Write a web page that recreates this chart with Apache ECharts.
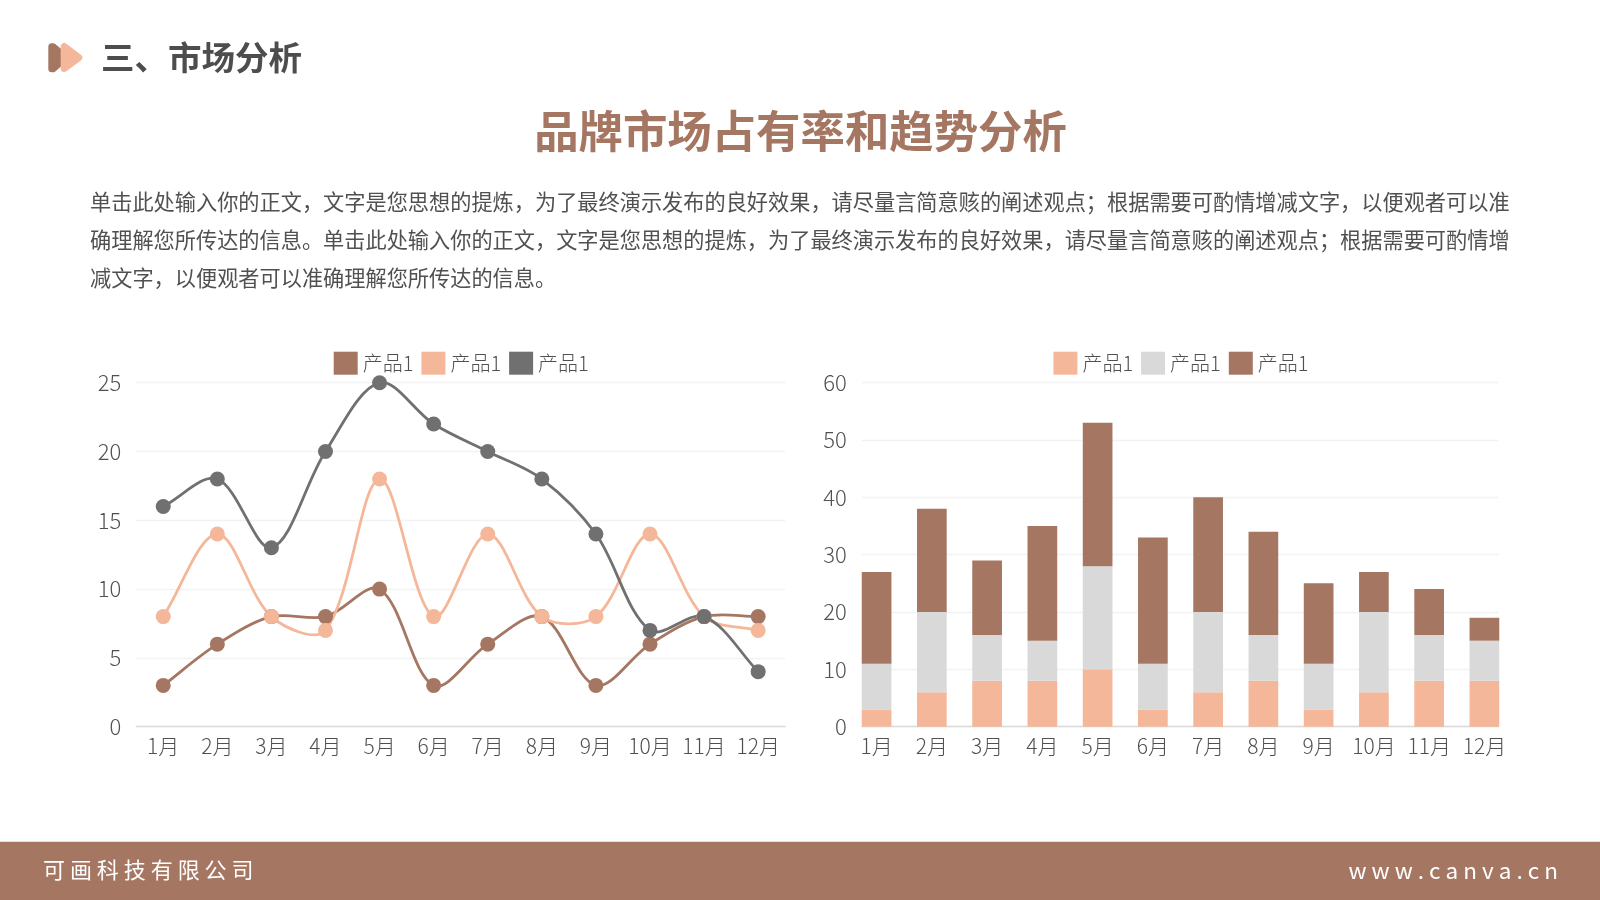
<!DOCTYPE html>
<html><head><meta charset="utf-8">
<style>html,body{margin:0;padding:0;background:#fff}#c{width:1600px;height:900px}</style>
<script src="https://cdn.jsdelivr.net/npm/echarts@6/dist/echarts.min.js"></script>
</head><body><div id="c"></div>
<script>
const months = ['1月','2月','3月','4月','5月','6月','7月','8月','9月','10月','11月','12月'];
const seriesA = [3,6,8,8,10,3,6,8,3,6,8,8];
const seriesB = [8,14,8,7,18,8,14,8,8,14,8,7];
const seriesC = [16,18,13,20,25,22,20,18,14,7,8,4];
const legendText = '产品1';
const heading = '三、市场分析';
const title = '品牌市场占有率和趋势分析';
const bodyLines = [
  '单击此处输入你的正文，文字是您思想的提炼，为了最终演示发布的良好效果，请尽量言简意赅的阐述观点；根据需要可酌情增减文字，以便观者可以准',
  '确理解您所传达的信息。单击此处输入你的正文，文字是您思想的提炼，为了最终演示发布的良好效果，请尽量言简意赅的阐述观点；根据需要可酌情增',
  '减文字，以便观者可以准确理解您所传达的信息。'
];
const company = '可 画 科 技 有 限 公 司';
const site = 'w w w . c a n v a . c n';

const BROWN='#A57762', PEACH='#F5B799', GRAY='#707070', LIGHT='#D9D9D9', TEXT='#505050';
const FONT='"Noto Sans CJK SC","Noto Sans",sans-serif';
// identical visible names; zero-width suffix keeps legend entries separate
const nm = i => legendText + '\u200b'.repeat(i);

// office-style smoothing: one bezier segment per pair of points, placed through the axes
const SMOOTH = 1/3;
const curveSeries = (data, color) => ({
  type:'custom', xAxisIndex:0, yAxisIndex:0, silent:true,
  data:data.map((v,i)=>[i,v]), encode:{x:0,y:1},
  renderItem:(params, api) => {
    const i = params.dataIndex;
    if (i >= data.length-1) return null;
    const pt = k => { const j = Math.max(0, Math.min(data.length-1, k)); return api.coord([j, data[j]]); };
    const p0=pt(i-1), p1=pt(i), p2=pt(i+1), p3=pt(i+2);
    const d=(a,b)=>Math.hypot(a[0]-b[0],a[1]-b[1]);
    const a=d(p0,p1), b=d(p1,p2), c=d(p2,p3);
    const r1 = a+b ? b/(a+b) : 0, r2 = b+c ? b/(b+c) : 0;
    return {type:'bezierCurve',
      shape:{x1:p1[0],y1:p1[1],x2:p2[0],y2:p2[1],
        cpx1:p1[0]+(p2[0]-p0[0])*SMOOTH*r1, cpy1:p1[1]+(p2[1]-p0[1])*SMOOTH*r1,
        cpx2:p2[0]-(p3[0]-p1[0])*SMOOTH*r2, cpy2:p2[1]-(p3[1]-p1[1])*SMOOTH*r2},
      style:{stroke:color, fill:'none', lineWidth:2.8}};
  }
});
const lineSeries = (i, data, color) => ({
  name:nm(i), type:'line', xAxisIndex:0, yAxisIndex:0, data,
  symbol:'circle', symbolSize:15,
  lineStyle:{color, width:2.8, opacity:0}, itemStyle:{color}
});
const barSeries = (i, data, color) => ({
  name:nm(i), type:'bar', stack:'s', xAxisIndex:2, yAxisIndex:2, data, barWidth:29.7, clip:false,
  itemStyle:{color}
});
const legend = (left, names) => ({
  left, top:351.7, padding:0, orient:'horizontal', data:names.map(n=>({name:n,icon:'rect'})),
  itemWidth:24, itemHeight:23, itemGap:8, selectedMode:false,
  textStyle:{color:TEXT, fontSize:20, fontFamily:FONT, fontWeight:300}
});
const yAx = (grid, max, interval) => ({
  type:'value', gridIndex:grid, min:0, max, interval,
  axisLine:{show:false}, axisTick:{show:false},
  axisLabel:{color:TEXT, fontSize:22, fontFamily:FONT, fontWeight:300, margin:15},
  splitLine:{lineStyle:{color:'#F2F2F2', width:1.3}}
});
const xAx = (grid, showLabel, gap, showLine) => ({
  type:'category', gridIndex:grid, data:months, boundaryGap:gap,
  axisTick:{show:false},
  axisLine:{show:showLine, lineStyle:{color:LIGHT, width:1.3}},
  axisLabel:{show:showLabel, color:TEXT, fontSize:21, fontFamily:FONT, fontWeight:300, margin:9, interval:0},
  splitLine:{show:false}
});
const txt = (x,y,text,fontSize,fill,fontWeight,align) => ({
  type:'text', x, y, silent:true,
  style:{text, fontSize, fill, fontWeight:fontWeight||'normal', fontFamily:FONT, align:align||'left', verticalAlign:'middle'}
});
const poly = (points, color) => ({
  type:'polygon', shape:{points}, silent:true,
  style:{fill:color, stroke:color, lineWidth:7, lineJoin:'round'}
});

const option = {
  animation:false, backgroundColor:'#fff',
  legend:[legend(333.7,[nm(0),nm(1),nm(2)]), legend(1053.4,[nm(3),nm(4),nm(5)])],
  grid:[
    {left:136.2, width:649, top:382.7, height:344},
    {left:861.8, width:637, top:382.7, height:344},
    {left:876.6, width:607.8, top:382.7, height:344}
  ],
  xAxis:[xAx(0,true,true,true), xAx(1,false,true,true), xAx(2,true,false,false)],
  yAxis:[yAx(0,25,5), yAx(1,60,10), Object.assign(yAx(2,60,10),{show:false})],
  series:[
    curveSeries(seriesA,BROWN), lineSeries(0,seriesA,BROWN),
    curveSeries(seriesB,PEACH), lineSeries(1,seriesB,PEACH),
    curveSeries(seriesC,GRAY), lineSeries(2,seriesC,GRAY),
    barSeries(3,seriesA,PEACH), barSeries(4,seriesB,LIGHT), barSeries(5,seriesC,BROWN)
  ],
  graphic:[
    {type:'rect', shape:{x:0,y:841.7,width:1600,height:58.3}, style:{fill:BROWN}, silent:true, z:-1},
    poly([[51.8,46.8],[53,46.8],[66,57.5],[53,68.8],[51.8,68.8]],BROWN),
    poly([[64.2,46.5],[64.2,68.5],[78.8,57.6]],PEACH),
    txt(101,57,heading,33.5,'#4D4D4D','bold'),
    txt(800.5,131.5,title,44.4,BROWN,'bold','center'),
    txt(90,202,bodyLines[0],21.2,TEXT),
    txt(90,240,bodyLines[1],21.2,TEXT),
    txt(90,278,bodyLines[2],21.2,TEXT),
    txt(43,870,company,22,'#fff'),
    txt(1558,870,site,22.5,'#fff','normal','right')
  ]
};
echarts.init(document.getElementById('c'),null,{renderer:'canvas'}).setOption(option);
</script></body></html>
